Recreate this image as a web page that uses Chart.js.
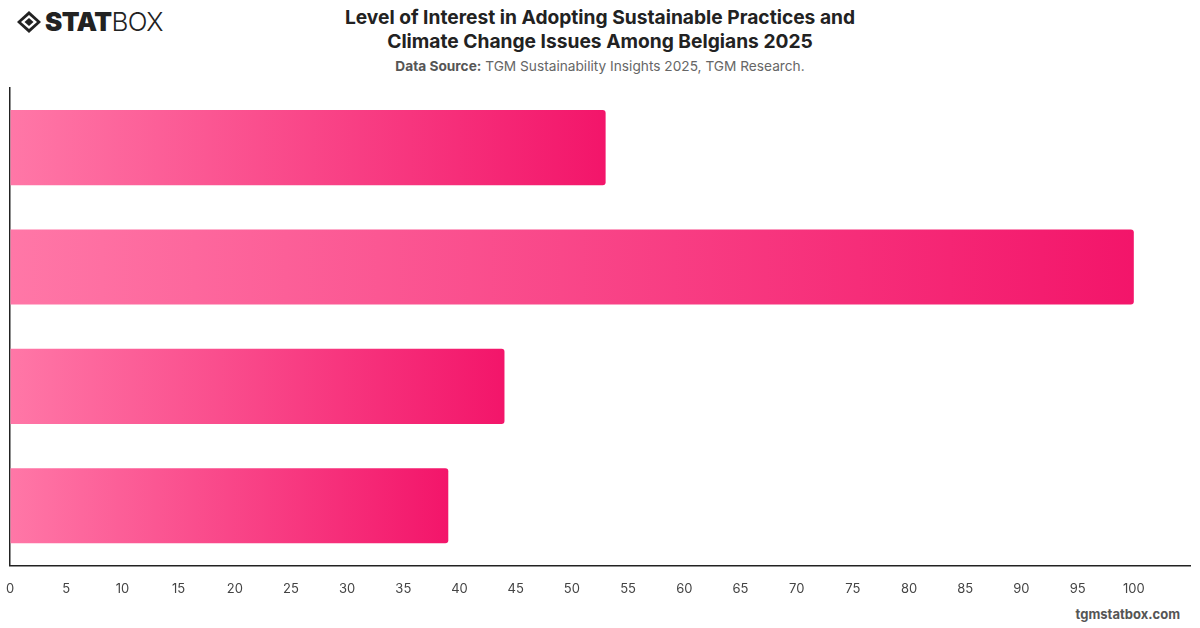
<!DOCTYPE html>
<html>
<head>
<meta charset="utf-8">
<script src="https://cdn.jsdelivr.net/npm/chart.js@4.4.1/dist/chart.umd.min.js"></script>
<style>
  html, body { margin: 0; padding: 0; background: #fff; }
  body { width: 1200px; height: 628px; position: relative; overflow: hidden; font-family: Inter, "Open Sans", sans-serif; }
  #logo { position: absolute; left: 16px; top: 7px; display: flex; align-items: center; height: 30px; }
  #logo .txt { font-family: Inter, sans-serif; font-size: 26px; letter-spacing: -0.6px; color: #222; line-height: 30px; margin-left: 3px; }
  #logo .txt b { font-weight: 900; }
  #logo .txt span { font-weight: 300; }
  #titulo { position: absolute; left: 0; width: 1200px; top: 5px; text-align: center; font-size: 19.2px; font-weight: 700; color: #222; line-height: 24px; }
  #fonte { position: absolute; left: 0; width: 1200px; top: 58px; text-align: center; font-size: 13.7px; color: #666; }
  #fonte b { color: #555; }
  #rodape { position: absolute; right: 20px; top: 606px; font-size: 13px; font-weight: 700; color: #555; }
  #grafico { position: absolute; left: 0; top: 0; }
</style>
</head>
<body>
<div id="logo">
  <svg width="26" height="24" viewBox="0 0 26 24">
    <polygon points="13,1 25,12 13,23 1,12" fill="#222"/>
    <polygon points="13,5 21,12 13,19 5,12" fill="#fff"/>
    <polygon points="13,8 17.5,12 13,16 8.5,12" fill="#222"/>
  </svg>
  <div class="txt"><b>STAT</b><span>BOX</span></div>
</div>
<div id="titulo">Level of Interest in Adopting Sustainable Practices and<br>Climate Change Issues Among Belgians 2025</div>
<div id="fonte"><b>Data Source:</b> TGM Sustainability Insights 2025, TGM Research.</div>
<div id="rodape">tgmstatbox.com</div>
<canvas id="grafico" width="1200" height="628"></canvas>

<script>
// dados
const categorias = ["Nível 1", "Nível 2", "Nível 3", "Nível 4"];
const valores = [53, 100, 44, 39];
const eixoMax = 105;
const passo = 5;

const corInicio = "#ff77a7";
const corFim = "#f3156a";

function gradienteBarra(context) {
    const chart = context.chart;
    const area = chart.chartArea;
    if (!area) return corFim;
    const v = context.raw || 0;
    const xFim = chart.scales.x.getPixelForValue(v);
    const g = chart.ctx.createLinearGradient(area.left, 0, xFim, 0);
    g.addColorStop(0, corInicio);
    g.addColorStop(1, corFim);
    return g;
}

const ctx = document.getElementById('grafico').getContext('2d');
new Chart(ctx, {
    type: 'bar',
    data: {
        labels: categorias,
        datasets: [{
            data: valores,
            backgroundColor: gradienteBarra,
            borderRadius: 3,
            borderSkipped: 'start',
            barPercentage: 0.63,
            categoryPercentage: 1
        }]
    },
    options: {
        indexAxis: 'y',
        responsive: false,
        animation: false,
        layout: { padding: { top: 88, left: 10, right: 10, bottom: 29 } },
        plugins: { legend: { display: false }, tooltip: { enabled: false } },
        scales: {
            x: {
                min: 0,
                max: eixoMax,
                afterBuildTicks: (eixo) => { eixo.ticks = eixo.ticks.filter(t => t.value <= 100); },
                ticks: { stepSize: passo, padding: 2, color: "#444", font: { family: "Inter", size: 13 } },
                // marcas invisíveis só para afastar os rótulos do eixo
                grid: { display: true, drawOnChartArea: false, drawTicks: true, tickLength: 14, color: "rgba(0,0,0,0)" },
                border: { display: true, color: "#222", width: 1.5 }
            },
            y: {
                afterFit: (eixo) => { eixo.width = 0; },
                ticks: { display: false },
                grid: { display: false, drawTicks: false },
                border: { display: true, color: "#222", width: 1.5 }
            }
        }
    }
});
</script>
</body>
</html>
